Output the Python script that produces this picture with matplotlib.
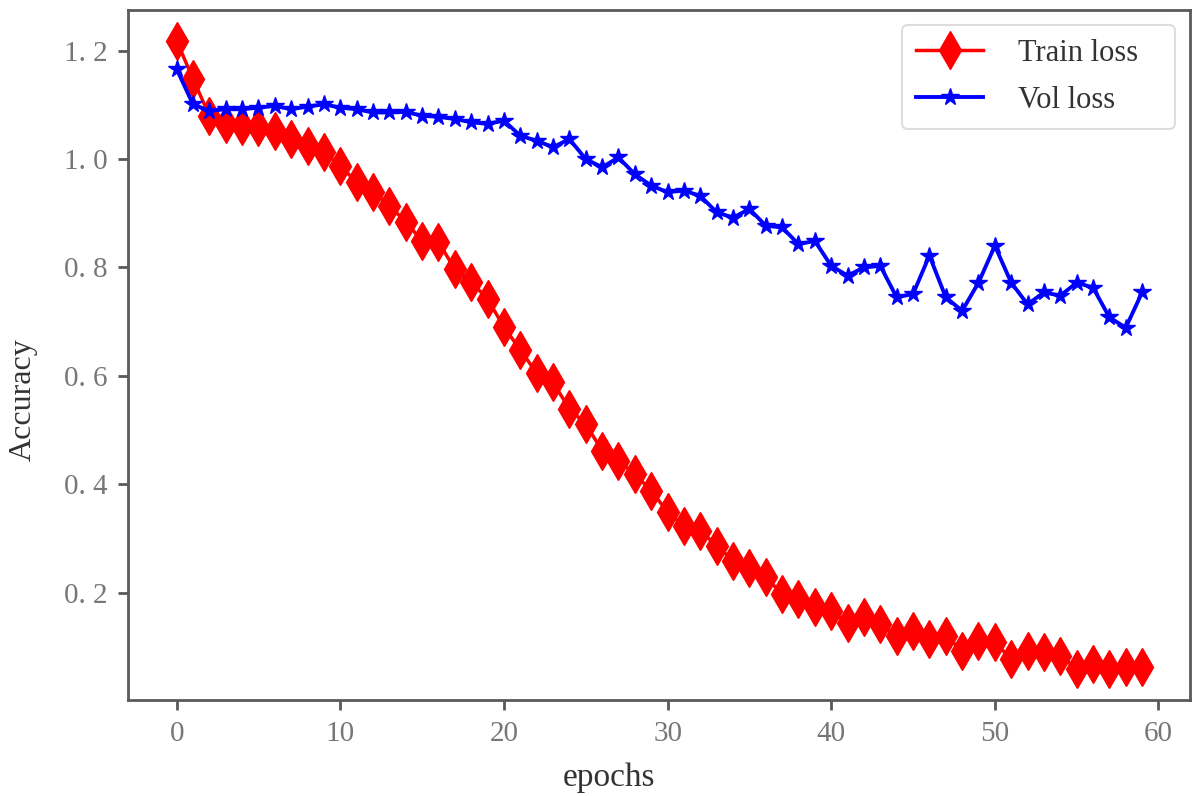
import numpy as np
import matplotlib
matplotlib.use("Agg")
import matplotlib.pyplot as plt

epochs = list(range(60))

train_loss = [1.218, 1.148, 1.080, 1.065, 1.061, 1.059, 1.052, 1.037, 1.025, 1.013,
              0.988, 0.957, 0.939, 0.914, 0.884, 0.849, 0.847, 0.797, 0.773, 0.742,
              0.690, 0.648, 0.605, 0.588, 0.539, 0.511, 0.462, 0.443, 0.419, 0.388,
              0.349, 0.323, 0.314, 0.287, 0.259, 0.245, 0.229, 0.197, 0.188, 0.173,
              0.167, 0.144, 0.155, 0.142, 0.120, 0.130, 0.114, 0.120, 0.093, 0.111,
              0.109, 0.077, 0.093, 0.090, 0.084, 0.059, 0.068, 0.059, 0.063, 0.063]

vol_loss = [1.166, 1.101, 1.089, 1.092, 1.092, 1.095, 1.098, 1.092, 1.097, 1.101,
            1.095, 1.092, 1.086, 1.086, 1.087, 1.080, 1.078, 1.074, 1.068, 1.065,
            1.071, 1.043, 1.034, 1.022, 1.037, 1.000, 0.985, 1.003, 0.972, 0.951,
            0.939, 0.942, 0.932, 0.902, 0.892, 0.908, 0.877, 0.874, 0.843, 0.849,
            0.803, 0.785, 0.800, 0.803, 0.745, 0.751, 0.822, 0.745, 0.720, 0.772,
            0.840, 0.772, 0.732, 0.754, 0.748, 0.772, 0.763, 0.708, 0.689, 0.754]

xticks = [0, 10, 20, 30, 40, 50, 60]
yticks = [0.2, 0.4, 0.6, 0.8, 1.0, 1.2]
ytick_labels = ["0. 2", "0. 4", "0. 6", "0. 8", "1. 0", "1. 2"]

grey = "#5a5a5a"
serif = "Liberation Serif"

fig = plt.figure(figsize=(12, 7.96), dpi=100)
ax = fig.add_axes([0.107, 0.12, 0.885, 0.868])

ax.plot(epochs, train_loss, color="red", marker="d", markersize=19, linewidth=2.5,
        label="Train loss   ")
ax.plot(epochs, vol_loss, color="blue", marker="*", markersize=13, linewidth=2.8,
        label="Vol loss")

ax.set_xticks(xticks)
ax.set_yticks(yticks)
ax.set_yticklabels(ytick_labels)

for sp in ax.spines.values():
    sp.set_color(grey)
    sp.set_linewidth(2)
ax.tick_params(direction="out", length=7, width=2, color=grey,
               labelcolor="#777777", labelsize=21, pad=8)
for lab in ax.get_xticklabels() + ax.get_yticklabels():
    lab.set_family(serif)

ax.set_xlabel("epochs", family=serif, fontsize=24, color="#333333")
ax.xaxis.set_label_coords(0.453, -0.09)
ax.set_ylabel("Accuracy", family=serif, fontsize=23, color="#333333")
ax.yaxis.set_label_coords(-0.085, 0.435)

leg = ax.legend(loc="upper right", prop={"family": serif, "size": 22},
                handlelength=2.2, borderpad=0.45, labelspacing=0.6,
                handletextpad=1.15, fancybox=True, framealpha=1)
for t in leg.get_texts():
    t.set_color("#333333")
leg.get_frame().set_edgecolor("#dddddd")
leg.get_frame().set_linewidth(1.5)

fig.savefig("out.png", dpi=100)
